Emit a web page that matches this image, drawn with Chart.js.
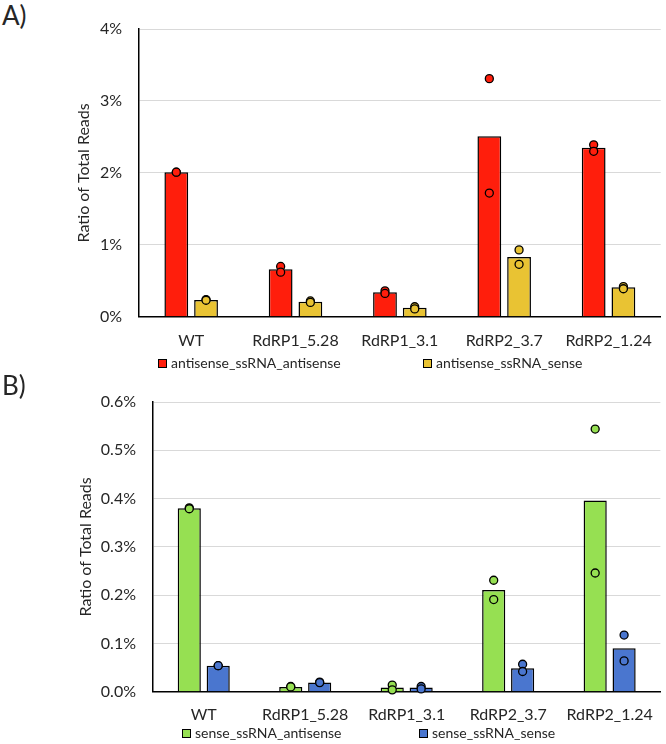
<!DOCTYPE html>
<html>
<head>
<meta charset="utf-8">
<script src="https://cdn.jsdelivr.net/npm/chart.js@4.4.0/dist/chart.umd.min.js"></script>
<style>
  body { margin: 0; background: #fff; font-family: Lato, sans-serif; color: #262626; }
  #wrap { position: relative; width: 666px; height: 744px; }
  .panel { position: absolute; left: 0; width: 666px; height: 372px; }
  .tag { position: absolute; left: 2px; font-size: 26px; line-height: 30px; }
  .legend { position: absolute; font-size: 14px; line-height: 16px; white-space: nowrap; }
  .legend i { display: inline-block; width: 7px; height: 7px; border: 1px solid #000; margin-right: 4px; vertical-align: 0px; }
</style>
</head>
<body>
<div id="wrap">
  <div class="tag" style="top:0px">A)</div>
  <div class="panel" style="top:0px"><canvas id="chartA" width="666" height="372"></canvas></div>
  <div class="tag" style="top:370px">B)</div>
  <div class="panel" style="top:372px"><canvas id="chartB" width="666" height="372"></canvas></div>
</div>
<script>
// categories shared by both panels
const categories = ['WT', 'RdRP1_5.28', 'RdRP1_3.1', 'RdRP2_3.7', 'RdRP2_1.24'];

// Panel A (values in %)
const asAntisenseMean = [2.01, 0.66, 0.34, 2.51, 2.35];
const asAntisenseReps = [[2.01, 2.01], [0.70, 0.62], [0.36, 0.325], [3.31, 1.72], [2.39, 2.30]];
const asSenseMean = [0.235, 0.21, 0.125, 0.83, 0.41];
const asSenseReps = [[0.24, 0.23], [0.22, 0.20], [0.14, 0.11], [0.93, 0.73], [0.42, 0.39]];
const ticksA = ['0%', '1%', '2%', '3%', '4%'];

// Panel B (values in %)
const sAntisenseMean = [0.380, 0.010, 0.009, 0.211, 0.396];
const sAntisenseReps = [[0.381, 0.379], [0.011, 0.010], [0.014, 0.004], [0.231, 0.191], [0.544, 0.246]];
const sSenseMean = [0.054, 0.019, 0.009, 0.049, 0.090];
const sSenseReps = [[0.054, 0.054], [0.020, 0.019], [0.011, 0.006], [0.057, 0.042], [0.1175, 0.064]];
const ticksB = ['0.0%', '0.1%', '0.2%', '0.3%', '0.4%', '0.5%', '0.6%'];

const CAT_PCT = 0.57;
const BAR_PCT = 0.8;
const FONT = 'Lato';
const TEXT = '#262626';

function panel(canvasId, cfg) {
  const datasets = cfg.series.map(s => ({
    label: s.name, data: s.mean,
    backgroundColor: s.color, borderColor: '#000', borderWidth: 1.5,
    categoryPercentage: CAT_PCT, barPercentage: BAR_PCT
  }));

  // replicate dots: x from each bar element, y from the value scale
  const repDots = {
    id: 'repDots',
    afterDatasetsDraw(chart) {
      const ctx = chart.ctx;
      const y = chart.scales.y;
      ctx.save();
      cfg.series.forEach((s, k) => {
        const bars = chart.getDatasetMeta(k).data;
        s.reps.forEach((r, i) => {
          r.forEach(v => {
            ctx.beginPath();
            ctx.arc(bars[i].x, y.getPixelForValue(v), 4, 0, Math.PI * 2);
            ctx.fillStyle = s.color;
            ctx.fill();
            ctx.lineWidth = 1.3;
            ctx.strokeStyle = '#000';
            ctx.stroke();
          });
        });
      });
      ctx.restore();
    }
  };

  new Chart(document.getElementById(canvasId), {
    type: 'bar',
    data: { labels: categories, datasets },
    plugins: [repDots],
    options: {
      responsive: false,
      animation: false,
      layout: { padding: { top: cfg.top, bottom: cfg.bottom, left: 0, right: cfg.right } },
      plugins: { legend: { display: false }, tooltip: { enabled: false } },
      scales: {
        x: {
          grid: { display: false, drawTicks: false },
          border: { color: '#000', width: 1.5 },
          ticks: { color: TEXT, font: { family: FONT, size: 16 }, padding: cfg.xPad, maxRotation: 0, autoSkip: false }
        },
        y: {
          min: 0, max: cfg.max,
          ticks: {
            stepSize: cfg.step, padding: 17, color: TEXT, font: { family: FONT, size: 16 },
            callback: (v, i) => cfg.tickLabels[i]
          },
          grid: { color: c => (c.index === 0 ? 'rgba(0,0,0,0)' : '#d9d9d9'), drawTicks: false },
          border: { color: '#000', width: 1.5 },
          title: {
            display: true, text: 'Ratio of Total Reads', color: TEXT,
            font: { family: FONT, size: 16 }, padding: { top: cfg.titlePad, bottom: 0 }
          },
          afterFit: s => { s.width = cfg.axisW; }
        }
      }
    }
  });

  // legend below the axis, as in the original
  cfg.series.forEach((s, k) => {
    const d = document.createElement('div');
    d.className = 'legend';
    d.style.left = cfg.legendX[k] + 'px';
    d.style.top = cfg.legendY + 'px';
    d.innerHTML = '<i style="background:' + s.color + '"></i>' + s.name;
    document.getElementById('wrap').appendChild(d);
  });
}

panel('chartA', {
  series: [
    { name: 'antisense_ssRNA_antisense', mean: asAntisenseMean, reps: asAntisenseReps, color: '#ff1e0c' },
    { name: 'antisense_ssRNA_sense', mean: asSenseMean, reps: asSenseReps, color: '#e9c333' }
  ],
  max: 4, step: 1, tickLabels: ticksA,
  top: 29, bottom: 8, right: 3, xPad: 14, axisW: 139, titlePad: 74,
  legendX: [158, 423], legendY: 355
});

panel('chartB', {
  series: [
    { name: 'sense_ssRNA_antisense', mean: sAntisenseMean, reps: sAntisenseReps, color: '#96e052' },
    { name: 'sense_ssRNA_sense', mean: sSenseMean, reps: sSenseReps, color: '#4a76cf' }
  ],
  max: 0.6, step: 0.1, tickLabels: ticksB,
  top: 30, bottom: 7, right: 2, xPad: 13, axisW: 153, titlePad: 76,
  legendX: [182, 419], legendY: 725
});
</script>
</body>
</html>
